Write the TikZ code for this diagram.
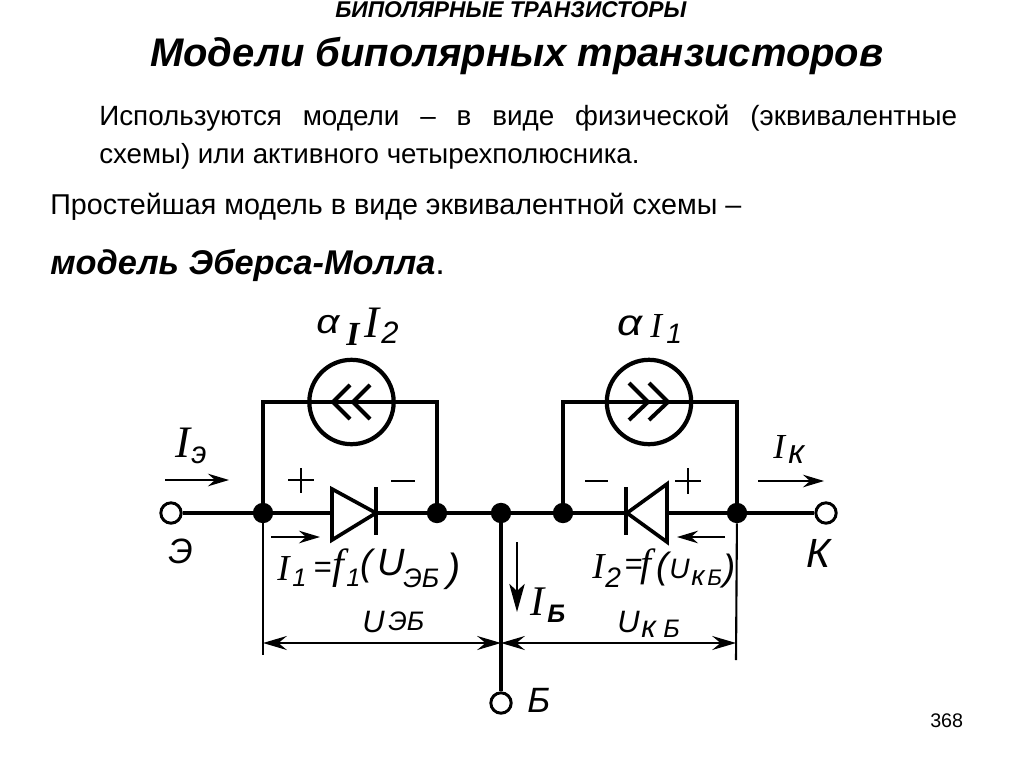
\documentclass[tikz,border=0pt]{standalone}
\usepackage{fontspec}
\setmainfont{Liberation Sans}
\newfontfamily\serifi{Liberation Serif}
\usetikzlibrary{arrows.meta}
\usetikzlibrary{positioning}
\tikzset{
 wire/.style={black, line width=2.2pt},
 thinwire/.style={black, line width=1.1pt},
 dot/.style={circle, fill=black, inner sep=0, minimum size=14.5},
 port/.style={circle, draw=black, line width=2.1pt, fill=white, inner sep=0, minimum size=14.5},
 source/.style={circle, draw=black, line width=3pt, inner sep=0, minimum size=60},
 lbl/.style={inner sep=0, anchor=base west, font=\fontsize{#1}{#1}\selectfont\itshape},
 ilbl/.style={inner sep=0, anchor=base west, font=\fontsize{#1}{#1}\selectfont\serifi\itshape},
 txt/.style={inner sep=0, anchor=base west, font=\fontsize{#1}{#1}\selectfont},
 btxt/.style={inner sep=0, anchor=base west, font=\fontsize{#1}{#1}\selectfont\bfseries\itshape},
 curr/.style={black, line width=1.1pt, -{Stealth[length=15pt,width=9pt,inset=5pt]}},
 dim/.style={black, line width=1.1pt, {Stealth[length=17pt,width=10pt,inset=6pt]}-{Stealth[length=17pt,width=10pt,inset=6pt]}},
}
\begin{document}
\begin{tikzpicture}[x=.025cm, y=-.025cm]
\useasboundingbox (0,0) rectangle (1024,767);
\fill[white] (0,0) rectangle (1024,767);
% heading and text
\node[btxt=16.2] (head) at (335,18) {БИПОЛЯРНЫЕ ТРАНЗИСТОРЫ};
\node[btxt=28.4] (title) at (150,67) {Модели биполярных транзисторов};
\node[txt=19.8] (para) at (99,126) {\makebox[610pt][s]{Используются модели – в виде физической (эквивалентные}};
\node[txt=19.7] (parb) at (99,164) {схемы) или активного четырехполюсника.};
\node[txt=20.4] (parc) at (50,215) {Простейшая модель в виде эквивалентной схемы –};
\node[btxt=24.4] (pard) at (50,275) {модель Эберса-Молла\textmd{\upshape.}};
\node[txt=14] (page) at (930,727) {368};
% junctions
\node[port] (e) at (171,513) {};
\node[port] (k) at (826,513) {};
\node[port] (b) at (501,703) {};
\node[dot] (n1) at (263,513) {};
\node[dot] (n2) at (437,513) {};
\node[dot] (n3) at (501,513) {};
\node[dot] (n4) at (563,513) {};
\node[dot] (n5) at (737,513) {};
% main wire
\draw[wire] (e)--(n1)--(n2)--(n3)--(n4)--(n5)--(k);
\draw[wire, line width=2.8pt] (n3)--(b);
% sources
\node[source] (s1) at (351.5,402) {};
\node[source] (s2) at (649,402) {};
\draw[wire] (n1)--(n1|-s1)--(s1);
\draw[wire] (s1)--(n2|-s1)--(n2);
\draw[wire] (n4)--(n4|-s2)--(s2);
\draw[wire] (s2)--(n5|-s2)--(n5);
\draw[wire] (s1.west)--(s1.east);
\draw[wire] (s2.west)--(s2.east);
\foreach \x in {0,20} {
\draw[wire, line width=2.8pt] (350+\x,385)--(333+\x,402)--(350+\x,419);
\draw[wire, line width=2.8pt] (629+\x,383)--(648+\x,402)--(629+\x,420);
}
% diodes
\draw[wire, line width=2.6pt, fill=white] (332,489)--(376,513)--(332,540)--cycle;
\draw[wire, line width=3.2pt] (376,487)--(376,535);
\draw[wire, line width=2.6pt, fill=white] (667,484)--(627,513)--(667,542)--cycle;
\draw[wire, line width=3.2pt] (626,487)--(626,535);
\draw[thinwire] (288,480)--(314,480);
\draw[thinwire] (301,468)--(301,493);
\draw[thinwire] (391,481)--(415,481);
\draw[thinwire] (585,481)--(608,481);
\draw[thinwire] (675,481)--(701,481);
\draw[thinwire] (688,468)--(688,494);
% dimension lines
\coordinate (dl) at (263,643);
\coordinate (dm) at (501,643);
\coordinate (dr) at (736,643);
\draw[wire, line width=1.5pt] (n1)--(263,655);
\draw[wire, line width=1.5pt] (n5)--(736,660);
\draw[dim] (dl)--(dm);
\draw[dim] (dm)--(dr);
% current arrows
\coordinate (ie1) at (165,480); \coordinate (ie2) at (229,480);
\coordinate (ia1) at (271,537); \coordinate (ia2) at (320,537);
\coordinate (ib1) at (725,537); \coordinate (ib2) at (677,537);
\coordinate (ik1) at (758,481); \coordinate (ik2) at (824,481);
\foreach \a/\b in {ie1/ie2,ia1/ia2,ib1/ib2,ik1/ik2} {
\draw[curr] (\a)--(\b);
}
\coordinate (ic1) at (517,542); \coordinate (ic2) at (517,612);
\draw[black, line width=1.1pt, -{Stealth[length=20pt,width=11pt,inset=5pt]}] (ic1)--(ic2);
% labels
\node[lbl=24] (aa) at (316,333) {\scalebox{1.2}[1]{α}};
\node[ilbl=24] (ab) at (346,345) {\bfseries I};
\node[ilbl=32] (ac) at (364,337) {I};
\node[lbl=22] (ad) at (381,343) {2};
\node[lbl=26] (ae) at (617,335) {\scalebox{1.2}[1]{α}};
\node[ilbl=25] (af) at (650,337) {I};
\node[lbl=20] (ag) at (666,343) {1};
\node[ilbl=32] (ah) at (175,457) {I};
\node[lbl=22] (ai) at (191,463) {э};
\node[ilbl=25] (aj) at (773,458) {I};
\node[lbl=24] (ak) at (788,463) {к};
\node[lbl=25] (al) at (168,563) {Э};
\node[lbl=29] (am) at (806,567) {К};
\node[lbl=25] (an) at (527,712) {Б};
\node[ilbl=26] (ba) at (277,580) {I};
\node[lbl=18] (bb) at (292,586) {1};
\node[lbl=22] (bc) at (313,577) {=};
\node[ilbl=30] (bd) at (332,578) {f};
\node[lbl=18] (be) at (346,586) {1};
\node[lbl=26] (bf) at (360,575) {(};
\node[lbl=27] (bg) at (377,575) {U};
\node[lbl=19] (bh) at (403,587) {ЭБ};
\node[lbl=28] (bi) at (447,581) {)};
\node[ilbl=26] (ca) at (592,578) {I};
\node[lbl=20] (cb) at (605,587) {2};
\node[lbl=22] (cc) at (624,574) {=};
\node[ilbl=28] (cd) at (640,576) {f};
\node[lbl=26] (ce) at (656,578) {(};
\node[lbl=20] (cf) at (669,578) {U};
\node[lbl=20] (cg) at (691,585) {к};
\node[lbl=16] (ch) at (707,585) {Б};
\node[lbl=26] (ci) at (723,580) {)};
\node[ilbl=30] (da) at (530,615) {I};
\node[btxt=18] (db) at (547,622) {Б};
\node[lbl=22] (dc) at (362,632) {U};
\node[lbl=19] (dd) at (388,630) {ЭБ};
\node[lbl=22] (de) at (617,632) {U};
\node[lbl=22] (df) at (641,637) {к};
\node[lbl=18] (dg) at (663,637) {Б};
\end{tikzpicture}
\end{document}
